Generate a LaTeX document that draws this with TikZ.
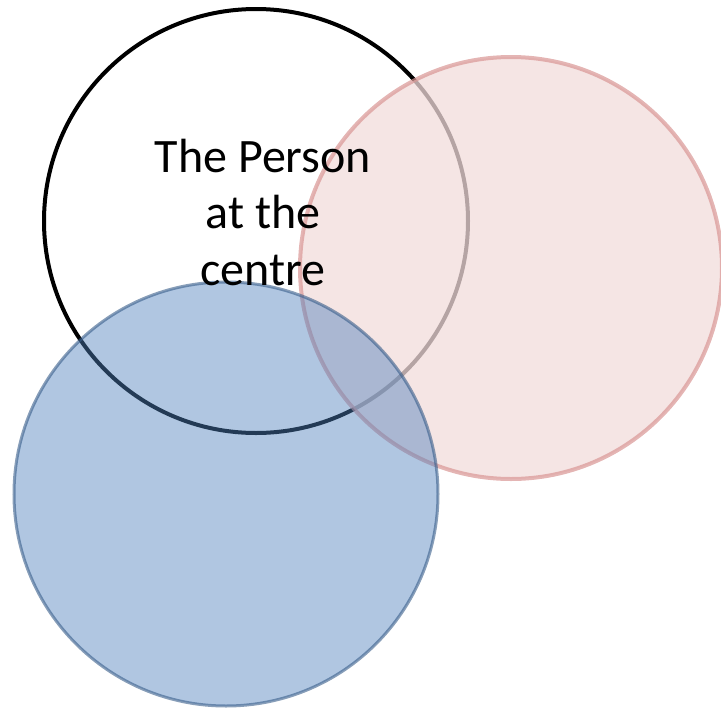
\documentclass[tikz,border=0pt]{standalone}
\usepackage{fontspec}
\setmainfont{Carlito}
\definecolor{pinkfill}{HTML}{F2DCDB}
\definecolor{pinkline}{HTML}{D99694}
\definecolor{bluefill}{HTML}{4F81BD}
\definecolor{blueline}{HTML}{385D8A}
\begin{document}
\begin{tikzpicture}[x=1pt,y=-1pt,
  ringblack/.style={circle,draw=black,line width=4pt,minimum size=424pt,inner sep=0pt},
  ringpink/.style={circle,draw=pinkline,draw opacity=0.7,line width=4pt,fill=pinkfill,fill opacity=0.75,minimum size=422pt,inner sep=0pt},
  ringblue/.style={circle,draw=blueline,draw opacity=0.6,line width=3pt,fill=bluefill,fill opacity=0.45,minimum size=424pt,inner sep=0pt},
  label/.style={align=center,font=\fontsize{48}{56.5}\selectfont,inner sep=0pt}]
\useasboundingbox (0,0) rectangle (721,710);
\node[ringblack] (person) at (256,221) {};
\node[ringpink] (pink) at (511,268) {};
\node[ringblue] (blue) at (226,494) {};
\node[label,anchor=base] (txt) at (263,285) {The Person\\at the\\centre};
\end{tikzpicture}
\end{document}
